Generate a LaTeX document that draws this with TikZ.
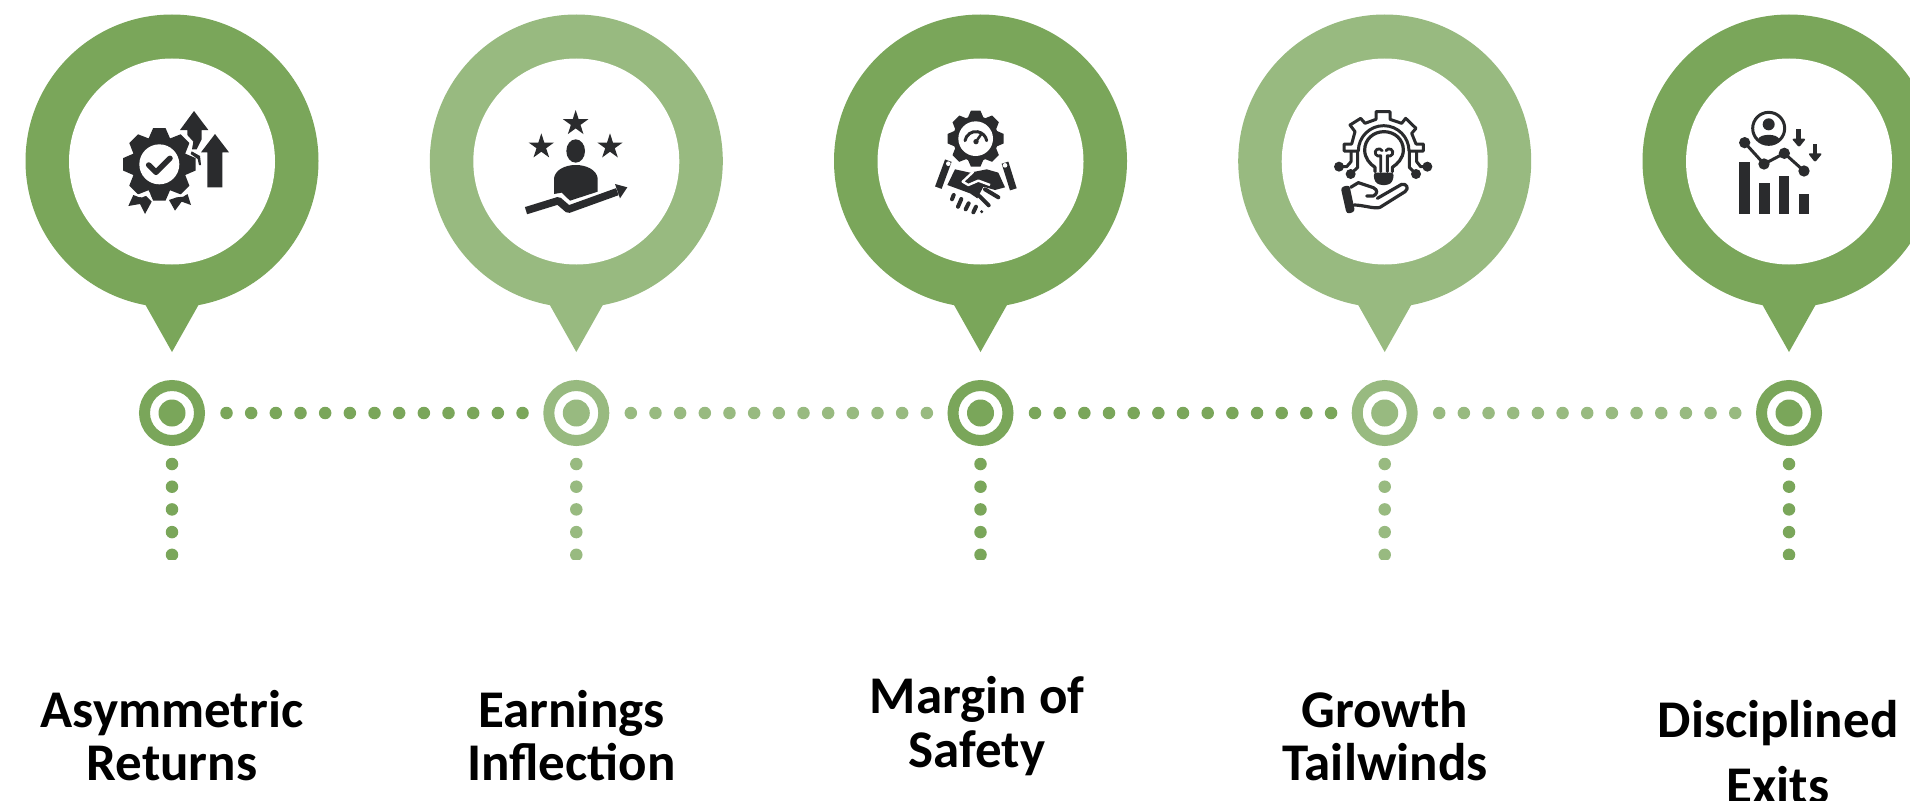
\documentclass[tikz,border=0pt]{standalone}
\usepackage{fontspec}
\setmainfont{Carlito}
\definecolor{gd}{HTML}{7AA65A}
\definecolor{gl}{HTML}{98BA80}
\definecolor{ink}{HTML}{2A2B2D}
\tikzset{
  outerdisc/.style={circle,inner sep=0pt,minimum size=293pt,fill=#1},
  innerdisc/.style={circle,inner sep=0pt,minimum size=206pt,fill=white},
  ringnode/.style={circle,inner sep=0pt,minimum size=55pt,line width=11pt,draw=#1,fill=white},
  corenode/.style={circle,inner sep=0pt,minimum size=27pt,fill=#1},
  dotline/.style={draw=#1,line width=12.5pt,line cap=round,dash pattern=on 0pt off 24.67pt},
  vdotline/.style={draw=#1,line width=12.5pt,line cap=round,dash pattern=on 0pt off 22.7pt},
  textlabel/.style={align=center,anchor=base,font=\bfseries\fontsize{53}{#1}\selectfont,text=black,inner sep=0pt},
  inkline/.style={draw=ink,line cap=round,line join=round},
}
\newcommand\zstar[3]{\fill[ink,shift={(#1,#2)},scale=#3] (0,-1)--(.223,-.307)--(.951,-.309)--(.361,.117)--(.588,.809)--(0,.38)--(-.588,.809)--(-.361,.117)--(-.951,-.309)--(-.223,-.307)--cycle;}
\newcommand\zgear[4]{%
  \foreach \a in {0,45,...,315}{\fill[ink,shift={(#1,#2)},rotate=\a] (-#4*.30,-#4*.70) -- (-#4*.17,-#4) -- (#4*.17,-#4) -- (#4*.30,-#4*.70) -- cycle;}
  \fill[ink] (#1,#2) circle (#3);}
\begin{document}
\begin{tikzpicture}[x=1pt,y=-1pt]
\useasboundingbox (0,0) rectangle (1910,800);
\clip (0,0) rectangle (1910,800);
\fill[white] (0,0) rectangle (1910,800);
\foreach \n/\cx/\col in {1/172/gd,2/576.3/gl,3/980.5/gd,4/1384.7/gl,5/1789/gd}{
  \node[outerdisc=\col] (o\n) at (\cx,161) {};
  \fill[\col] (\cx-27.6,303) -- (\cx,352) -- (\cx+27.6,303) -- cycle;
  \node[innerdisc] (i\n) at (\cx,161.5) {};
  \node[ringnode=\col] (r\n) at (\cx,413) {};
  \node[corenode=\col] (c\n) at (\cx,413) {};
  \coordinate (vs\n) at (\cx,464);
  \coordinate (ve\n) at (\cx,565);
  \begin{scope}
    \clip (\cx-10,450) rectangle (\cx+10,559);
    \draw[vdotline=\col] (vs\n) -- (ve\n);
  \end{scope}
}
\foreach \n/\cx/\col in {1/172/gd,2/576.3/gl,3/980.5/gd,4/1384.7/gl}{
  \coordinate (hs\n) at (\cx+54.5,413);
  \coordinate (he\n) at (\cx+351,413);
  \draw[dotline=\col] (hs\n) -- (he\n);
}
% icon 1
\begin{scope}[shift={(100,90)},scale=1/3]
  \zgear{178}{223}{84}{109}
  \fill[white] (178,223) circle (60);
  \draw[inkline,line width=5.5pt] (146,225) -- (168,247) -- (210,205);
  \fill[ink] (85,348) -- (100,315) -- (118,322) -- (135,315) -- (155,335) -- (135,372) -- (120,342) -- cycle;
  \fill[ink] (207,330) -- (230,322) -- (250,320) -- (262,310) -- (273,345) -- (245,335) -- (225,362) -- cycle;
  \draw[white,line width=1.5pt] (85,312) -- (105,312) -- (125,320) -- (150,310);
  \draw[white,line width=1.5pt] (205,322) -- (232,316) -- (250,316) -- (272,305);
  \draw[white,line width=1.5pt] (250,128) -- (272,155) -- (268,178) -- (295,198) -- (300,235);
  \fill[ink] (282,63) -- (325,120) -- (305,120) -- (305,148) -- (290,178) -- (276,178) -- (280,155) -- (262,135) -- (262,120) -- (240,120) -- cycle;
  \fill[ink] (275,184) -- (300,198) -- (303,225) -- (297,225) -- (293,207) -- (272,192) -- cycle;
  \fill[ink] (345,132) -- (387,187) -- (367,187) -- (367,292) -- (322,292) -- (322,187) -- (303,187) -- cycle;
\end{scope}
% icon 2
\begin{scope}[shift={(480,90)},scale=1/3]
  \zstar{287}{100}{40}
  \zstar{184}{170}{40}
  \zstar{390}{170}{40}
  \fill[ink] (287,183) ellipse (28 and 35);
  \fill[ink] (222,312) -- (222,265) .. controls (225,240) and (255,225) .. (287,225) .. controls (320,225) and (350,240) .. (353,265) -- (353,305) -- (270,332) -- (245,308) -- cycle;
  \draw[ink,line width=7.5pt,line join=round] (138,362) -- (235,332) -- (265,358) -- (412,305);
  \fill[ink] (405,282) -- (442,292) -- (420,325) -- cycle;
\end{scope}
% icon 3
\begin{scope}[shift={(890,90)},scale=1/3]
  \zgear{257}{146}{68}{84}
  \fill[white] (257,146) circle (52);
  \draw[inkline,line width=3pt] (225,152) arc[start angle=190,end angle=350,radius=33];
  \fill[ink] (258,155) circle (8);
  \draw[inkline,line width=2.5pt] (258,155) -- (274,132);
  \draw[ink,line width=7pt] (175,212) -- (145,293);
  \draw[ink,line width=7pt] (345,218) -- (370,298);
  \fill[white] (175,221) circle (7);
  \fill[white] (345,226) circle (7);
  \fill[ink] (172,285) -- (195,238) -- (240,248) -- (290,238) -- (325,248) -- (345,292) -- (315,300) -- (280,290) -- (262,325) -- (240,310) -- cycle;
  \draw[white,line width=2.4pt,line join=round] (250,245) -- (218,275) -- (235,285) -- (265,272) -- (300,285);
  \draw[inkline,line width=4pt] (285,298) -- (325,322);
  \draw[inkline,line width=4pt] (268,318) -- (296,346);
  \draw[inkline,line width=4pt] (191,315) -- (186,328);
  \draw[inkline,line width=4pt] (214,327) -- (204,350);
  \draw[inkline,line width=4pt] (236,340) -- (227,358);
  \draw[inkline,line width=4pt] (258,350) -- (250,367);
  \fill[ink] (275,365) circle (5);
\end{scope}
% icon 4
\begin{scope}[shift={(1290,90)},scale=1/3]
  \draw[inkline,line width=3pt] (205,183) -- (162,183) -- (162,162) -- (185,162) -- (195,125) -- (180,105) -- (212,85) -- (225,100) -- (258,88) -- (258,65) -- (300,65) -- (300,88) -- (335,100) -- (347,85) -- (378,115) -- (365,130) -- (378,162) -- (400,162) -- (400,183) -- (357,183) arc[start angle=0,end angle=-180,radius=76] -- cycle;
  \draw[inkline,line width=3.2pt] (255,245) -- (255,232) .. controls (240,222) and (224,205) .. (224,180) .. controls (224,148) and (250,125) .. (282,125) .. controls (314,125) and (340,148) .. (340,180) .. controls (340,205) and (322,222) .. (307,232) -- (307,245);
  \draw[inkline,line width=2.8pt] (272,245) -- (272,197) arc[start angle=60,end angle=330,radius=11] -- (276,182) (292,245) -- (292,197) arc[start angle=120,end angle=-150,radius=11];
  \fill[ink,rounded corners=3pt] (250,248) -- (312,248) -- (308,275) -- (295,285) -- (268,285) -- (254,275) -- cycle;
  \foreach \dx/\dy in {147/230,182/252,378/252,412/230}{\fill[ink] (\dx,\dy) circle (15);}
  \draw[inkline,line width=3pt] (147,230) -- (170,230) -- (183,215) -- (183,185);
  \draw[inkline,line width=3pt] (182,252) -- (203,232) -- (203,185);
  \draw[inkline,line width=3pt] (378,252) -- (358,232) -- (358,185);
  \draw[inkline,line width=3pt] (412,230) -- (392,230) -- (380,215) -- (380,185);
  \fill[ink,rounded corners=3pt] (152,292) -- (178,285) -- (195,365) -- (170,372) -- cycle;
  \draw[inkline,line width=3.2pt] (182,292) -- (205,278) -- (250,293) .. controls (265,300) and (262,312) .. (250,318) -- (230,318) (262,325) -- (335,283) .. controls (350,280) and (358,295) .. (345,305) -- (270,352) .. controls (255,358) and (220,345) .. (192,345);
\end{scope}
% icon 5
\begin{scope}[shift={(1700,90)},scale=1/3]
  \draw[ink,line width=3pt] (206,115) circle (48);
  \fill[ink] (206,103) circle (18);
  \fill[ink] (174,148) .. controls (180,130) and (232,130) .. (238,148) .. controls (225,168) and (187,168) .. (174,148) -- cycle;
  \draw[ink,line width=4.7pt] (295,118) -- (295,150);
  \draw[ink,line width=4.7pt] (345,162) -- (345,194);
  \fill[ink,rounded corners=2pt] (275,146) -- (318,146) -- (297,172) -- cycle;
  \fill[ink,rounded corners=2pt] (324,190) -- (367,190) -- (345,217) -- cycle;
  \draw[ink,line width=3pt] (134,158) -- (192,222) -- (253,190) -- (312,243);
  \foreach \dx/\dy in {134/158,192/222,253/190,312/243}{\fill[ink] (\dx,\dy) circle (17);}
  \fill[ink] (118,215) rectangle (150,372);
  \fill[ink] (178,280) rectangle (210,372);
  \fill[ink] (237,258) rectangle (268,372);
  \fill[ink] (297,312) rectangle (328,372);
\end{scope}
% labels
\node[textlabel=53] (t1) at (172,780) {Asymmetric\\Returns};
\node[textlabel=53] (t2) at (571.5,780) {Earnings\\Inflection};
\node[textlabel=54] (t3) at (977,767) {Margin of\\Safety};
\node[textlabel=53] (t4) at (1385,780) {Growth\\Tailwinds};
\node[textlabel=66] (t5) at (1778,803) {Disciplined\\Exits};
\end{tikzpicture}
\end{document}
